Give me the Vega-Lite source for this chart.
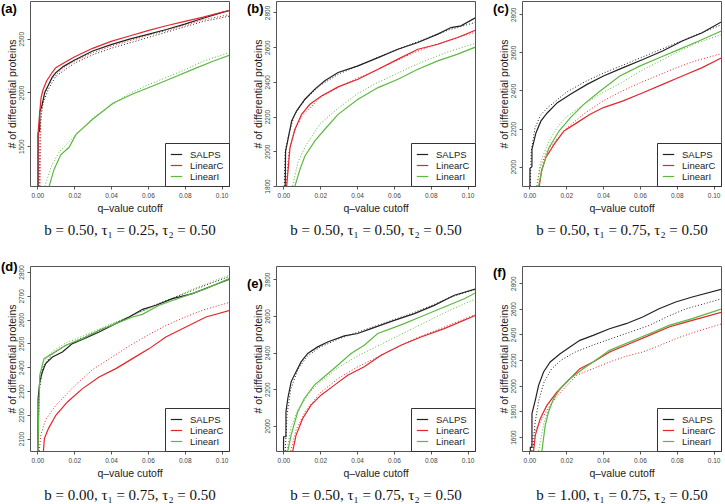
{
"$schema": "https://vega.github.io/schema/vega-lite/v6.json",
"background": "white",
"padding": {"left": 0, "top": 0, "right": 0, "bottom": 0},
"config": {
  "view": {"stroke": "#555555", "strokeWidth": 1},
  "font": "Liberation Sans",
  "axis": {"domain": false, "grid": false, "tickColor": "#555555", "tickSize": 3, "labelFontSize": 6.5, "labelColor": "#444444", "titleFontSize": 10.5, "titleFontWeight": "normal", "titleColor": "#222222", "labelFont": "Liberation Sans", "titleFont": "Liberation Sans"},
  "axisX": {"labelPadding": 3, "titlePadding": 5, "format": ".2f", "values": [0, 0.02, 0.04, 0.06, 0.08, 0.1]},
  "axisY": {"labelAngle": -90, "labelAlign": "center", "labelBaseline": "bottom", "labelPadding": 3, "titlePadding": 1, "format": "d"},
  "legend": {"orient": "bottom-right", "offset": 0, "strokeColor": "#333333", "fillColor": "white", "padding": 5, "symbolType": "stroke", "symbolStrokeWidth": 1.2, "symbolSize": 130, "labelFontSize": 9.5, "labelColor": "#222222", "rowPadding": 0, "labelOffset": 7, "labelFont": "Liberation Sans"},
  "title": {"font": "Liberation Sans", "fontSize": 13, "fontWeight": "bold", "color": "#000000", "orient": "top", "anchor": "start", "frame": "bounds"}
},
"resolve": {"scale": {"color": "independent"}, "legend": {"color": "independent"}},
"spacing": 22,
"vconcat": [
{"hconcat": [
 {
  "width": 199, "height": 185,
  "title": {"text": "(a)", "offset": -15, "dx": -6},
  "resolve": {"axis": {"x": "independent"}},
  "data": {"values": [
   {"m":"SALPS","k":"s","q":0.0004,"n":1127},{"m":"SALPS","k":"s","q":0.00041,"n":1620},{"m":"SALPS","k":"s","q":0.0013,"n":1650},{"m":"SALPS","k":"s","q":0.00131,"n":1820},{"m":"SALPS","k":"s","q":0.0025,"n":1880},{"m":"SALPS","k":"s","q":0.004,"n":2000},{"m":"SALPS","k":"s","q":0.006,"n":2070},{"m":"SALPS","k":"s","q":0.008,"n":2140},{"m":"SALPS","k":"s","q":0.01,"n":2183},{"m":"SALPS","k":"s","q":0.014,"n":2240},{"m":"SALPS","k":"s","q":0.02,"n":2300},{"m":"SALPS","k":"s","q":0.03,"n":2385},{"m":"SALPS","k":"s","q":0.04,"n":2445},{"m":"SALPS","k":"s","q":0.05,"n":2495},{"m":"SALPS","k":"s","q":0.06,"n":2540},{"m":"SALPS","k":"s","q":0.07,"n":2585},{"m":"SALPS","k":"s","q":0.08,"n":2635},{"m":"SALPS","k":"s","q":0.09,"n":2690},{"m":"SALPS","k":"s","q":0.1,"n":2742},{"m":"SALPS","k":"s","q":0.106,"n":2770},
   {"m":"LinearC","k":"s","q":0.0002,"n":1127},{"m":"LinearC","k":"s","q":0.0003,"n":1600},{"m":"LinearC","k":"s","q":0.001,"n":1760},{"m":"LinearC","k":"s","q":0.002,"n":1950},{"m":"LinearC","k":"s","q":0.003,"n":2020},{"m":"LinearC","k":"s","q":0.005,"n":2106},{"m":"LinearC","k":"s","q":0.008,"n":2185},{"m":"LinearC","k":"s","q":0.01,"n":2230},{"m":"LinearC","k":"s","q":0.015,"n":2280},{"m":"LinearC","k":"s","q":0.02,"n":2330},{"m":"LinearC","k":"s","q":0.03,"n":2410},{"m":"LinearC","k":"s","q":0.04,"n":2475},{"m":"LinearC","k":"s","q":0.05,"n":2525},{"m":"LinearC","k":"s","q":0.06,"n":2575},{"m":"LinearC","k":"s","q":0.07,"n":2620},{"m":"LinearC","k":"s","q":0.08,"n":2660},{"m":"LinearC","k":"s","q":0.09,"n":2700},{"m":"LinearC","k":"s","q":0.1,"n":2745},{"m":"LinearC","k":"s","q":0.106,"n":2770},
   {"m":"LinearI","k":"s","q":0.0064,"n":1127},{"m":"LinearI","k":"s","q":0.009,"n":1282},{"m":"LinearI","k":"s","q":0.0127,"n":1420},{"m":"LinearI","k":"s","q":0.0172,"n":1490},{"m":"LinearI","k":"s","q":0.021,"n":1610},{"m":"LinearI","k":"s","q":0.03,"n":1750},{"m":"LinearI","k":"s","q":0.041,"n":1900},{"m":"LinearI","k":"s","q":0.0517,"n":1985},{"m":"LinearI","k":"s","q":0.0626,"n":2060},{"m":"LinearI","k":"s","q":0.0735,"n":2137},{"m":"LinearI","k":"s","q":0.0844,"n":2214},{"m":"LinearI","k":"s","q":0.0953,"n":2290},{"m":"LinearI","k":"s","q":0.106,"n":2356},
   {"m":"SALPS","k":"d","q":0.001,"n":1127},{"m":"SALPS","k":"d","q":0.0015,"n":1700},{"m":"SALPS","k":"d","q":0.003,"n":1900},{"m":"SALPS","k":"d","q":0.006,"n":2030},{"m":"SALPS","k":"d","q":0.01,"n":2150},{"m":"SALPS","k":"d","q":0.02,"n":2270},{"m":"SALPS","k":"d","q":0.03,"n":2350},{"m":"SALPS","k":"d","q":0.04,"n":2410},{"m":"SALPS","k":"d","q":0.05,"n":2460},{"m":"SALPS","k":"d","q":0.06,"n":2510},{"m":"SALPS","k":"d","q":0.07,"n":2560},{"m":"SALPS","k":"d","q":0.08,"n":2610},{"m":"SALPS","k":"d","q":0.09,"n":2660},{"m":"SALPS","k":"d","q":0.106,"n":2715},
   {"m":"LinearC","k":"d","q":0.0015,"n":1127},{"m":"LinearC","k":"d","q":0.002,"n":1800},{"m":"LinearC","k":"d","q":0.004,"n":1990},{"m":"LinearC","k":"d","q":0.008,"n":2130},{"m":"LinearC","k":"d","q":0.015,"n":2240},{"m":"LinearC","k":"d","q":0.02,"n":2290},{"m":"LinearC","k":"d","q":0.03,"n":2370},{"m":"LinearC","k":"d","q":0.04,"n":2430},{"m":"LinearC","k":"d","q":0.05,"n":2480},{"m":"LinearC","k":"d","q":0.06,"n":2530},{"m":"LinearC","k":"d","q":0.07,"n":2575},{"m":"LinearC","k":"d","q":0.08,"n":2625},{"m":"LinearC","k":"d","q":0.09,"n":2675},{"m":"LinearC","k":"d","q":0.106,"n":2730},
   {"m":"LinearI","k":"d","q":0.004,"n":1127},{"m":"LinearI","k":"d","q":0.008,"n":1330},{"m":"LinearI","k":"d","q":0.012,"n":1450},{"m":"LinearI","k":"d","q":0.02,"n":1590},{"m":"LinearI","k":"d","q":0.03,"n":1760},{"m":"LinearI","k":"d","q":0.04,"n":1880},{"m":"LinearI","k":"d","q":0.05,"n":1990},{"m":"LinearI","k":"d","q":0.06,"n":2070},{"m":"LinearI","k":"d","q":0.07,"n":2140},{"m":"LinearI","k":"d","q":0.08,"n":2210},{"m":"LinearI","k":"d","q":0.09,"n":2290},{"m":"LinearI","k":"d","q":0.106,"n":2382}
  ]},
  "encoding": {
   "y": {"field": "n", "type": "quantitative", "scale": {"domain": [1130, 2850], "nice": false, "zero": false}, "axis": {"title": "# of differential proteins", "values": [1500, 2000, 2500]}},
   "color": {"field": "m", "type": "nominal", "scale": {"domain": ["SALPS", "LinearC", "LinearI"], "range": ["#222222", "#e3262b", "#5cb940"]}, "legend": {"title": null}}
  },
  "layer": [
   {"transform": [{"filter": "datum.k == 'd'"}], "mark": {"type": "line", "strokeDash": [1, 2], "strokeWidth": 1, "clip": true},
    "encoding": {"x": {"field": "q", "type": "quantitative", "scale": {"domain": [-0.004, 0.104], "nice": false, "zero": false}, "axis": {"title": "q–value cutoff", "orient": "bottom"}}}},
   {"transform": [{"filter": "datum.k == 's'"}], "mark": {"type": "line", "strokeWidth": 1.2, "clip": true},
    "encoding": {"x": {"field": "q", "type": "quantitative", "axis": {"orient": "bottom", "offset": 30, "title": "b = 0.50, τ₁ = 0.25, τ₂ = 0.50", "labels": false, "ticks": false, "domain": false, "titleFont": "Liberation Serif", "titleFontSize": 15, "titleColor": "#111111", "titlePadding": 6}}}}
  ]
 },
 {
  "width": 199, "height": 185,
  "title": {"text": "(b)", "offset": -15, "dx": -6},
  "resolve": {"axis": {"x": "independent"}},
  "data": {"values": [
   {"m":"SALPS","k":"s","q":0.001,"n":1800},{"m":"SALPS","k":"s","q":0.0012,"n":2000},{"m":"SALPS","k":"s","q":0.0027,"n":2079},{"m":"SALPS","k":"s","q":0.0045,"n":2175},{"m":"SALPS","k":"s","q":0.0072,"n":2233},{"m":"SALPS","k":"s","q":0.0117,"n":2300},{"m":"SALPS","k":"s","q":0.0171,"n":2358},{"m":"SALPS","k":"s","q":0.0225,"n":2406},{"m":"SALPS","k":"s","q":0.0297,"n":2454},{"m":"SALPS","k":"s","q":0.0405,"n":2492},{"m":"SALPS","k":"s","q":0.0514,"n":2540},{"m":"SALPS","k":"s","q":0.0622,"n":2588},{"m":"SALPS","k":"s","q":0.073,"n":2627},{"m":"SALPS","k":"s","q":0.0838,"n":2675},{"m":"SALPS","k":"s","q":0.091,"n":2713},{"m":"SALPS","k":"s","q":0.0964,"n":2723},{"m":"SALPS","k":"s","q":0.106,"n":2780},
   {"m":"LinearC","k":"s","q":0.0018,"n":1800},{"m":"LinearC","k":"s","q":0.0036,"n":2021},{"m":"LinearC","k":"s","q":0.0063,"n":2127},{"m":"LinearC","k":"s","q":0.0099,"n":2213},{"m":"LinearC","k":"s","q":0.0144,"n":2271},{"m":"LinearC","k":"s","q":0.0207,"n":2319},{"m":"LinearC","k":"s","q":0.0297,"n":2371},{"m":"LinearC","k":"s","q":0.0405,"n":2415},{"m":"LinearC","k":"s","q":0.0514,"n":2473},{"m":"LinearC","k":"s","q":0.0622,"n":2531},{"m":"LinearC","k":"s","q":0.073,"n":2588},{"m":"LinearC","k":"s","q":0.0838,"n":2617},{"m":"LinearC","k":"s","q":0.0946,"n":2656},{"m":"LinearC","k":"s","q":0.106,"n":2705},
   {"m":"LinearI","k":"s","q":0.0063,"n":1800},{"m":"LinearI","k":"s","q":0.009,"n":1896},{"m":"LinearI","k":"s","q":0.0117,"n":1973},{"m":"LinearI","k":"s","q":0.0171,"n":2060},{"m":"LinearI","k":"s","q":0.0225,"n":2127},{"m":"LinearI","k":"s","q":0.0297,"n":2213},{"m":"LinearI","k":"s","q":0.0405,"n":2300},{"m":"LinearI","k":"s","q":0.0514,"n":2367},{"m":"LinearI","k":"s","q":0.0622,"n":2415},{"m":"LinearI","k":"s","q":0.073,"n":2473},{"m":"LinearI","k":"s","q":0.0838,"n":2521},{"m":"LinearI","k":"s","q":0.0946,"n":2560},{"m":"LinearI","k":"s","q":0.106,"n":2608},
   {"m":"SALPS","k":"d","q":0.0005,"n":1800},{"m":"SALPS","k":"d","q":0.001,"n":2000},{"m":"SALPS","k":"d","q":0.003,"n":2100},{"m":"SALPS","k":"d","q":0.006,"n":2210},{"m":"SALPS","k":"d","q":0.012,"n":2300},{"m":"SALPS","k":"d","q":0.02,"n":2380},{"m":"SALPS","k":"d","q":0.03,"n":2445},{"m":"SALPS","k":"d","q":0.04,"n":2490},{"m":"SALPS","k":"d","q":0.05,"n":2535},{"m":"SALPS","k":"d","q":0.06,"n":2580},{"m":"SALPS","k":"d","q":0.07,"n":2620},{"m":"SALPS","k":"d","q":0.08,"n":2660},{"m":"SALPS","k":"d","q":0.09,"n":2700},{"m":"SALPS","k":"d","q":0.106,"n":2748},
   {"m":"LinearC","k":"d","q":0.0015,"n":1800},{"m":"LinearC","k":"d","q":0.003,"n":2000},{"m":"LinearC","k":"d","q":0.006,"n":2120},{"m":"LinearC","k":"d","q":0.01,"n":2200},{"m":"LinearC","k":"d","q":0.02,"n":2310},{"m":"LinearC","k":"d","q":0.03,"n":2370},{"m":"LinearC","k":"d","q":0.04,"n":2420},{"m":"LinearC","k":"d","q":0.05,"n":2465},{"m":"LinearC","k":"d","q":0.06,"n":2515},{"m":"LinearC","k":"d","q":0.07,"n":2565},{"m":"LinearC","k":"d","q":0.08,"n":2605},{"m":"LinearC","k":"d","q":0.09,"n":2640},{"m":"LinearC","k":"d","q":0.106,"n":2692},
   {"m":"LinearI","k":"d","q":0.005,"n":1800},{"m":"LinearI","k":"d","q":0.008,"n":1940},{"m":"LinearI","k":"d","q":0.012,"n":2030},{"m":"LinearI","k":"d","q":0.02,"n":2160},{"m":"LinearI","k":"d","q":0.03,"n":2250},{"m":"LinearI","k":"d","q":0.04,"n":2330},{"m":"LinearI","k":"d","q":0.05,"n":2390},{"m":"LinearI","k":"d","q":0.06,"n":2440},{"m":"LinearI","k":"d","q":0.07,"n":2490},{"m":"LinearI","k":"d","q":0.08,"n":2535},{"m":"LinearI","k":"d","q":0.09,"n":2575},{"m":"LinearI","k":"d","q":0.106,"n":2628}
  ]},
  "encoding": {
   "y": {"field": "n", "type": "quantitative", "scale": {"domain": [1800, 2866], "nice": false, "zero": false}, "axis": {"title": "# of differential proteins", "values": [1800, 2000, 2200, 2400, 2600, 2800]}},
   "color": {"field": "m", "type": "nominal", "scale": {"domain": ["SALPS", "LinearC", "LinearI"], "range": ["#222222", "#e3262b", "#5cb940"]}, "legend": {"title": null}}
  },
  "layer": [
   {"transform": [{"filter": "datum.k == 'd'"}], "mark": {"type": "line", "strokeDash": [1, 2], "strokeWidth": 1, "clip": true},
    "encoding": {"x": {"field": "q", "type": "quantitative", "scale": {"domain": [-0.004, 0.104], "nice": false, "zero": false}, "axis": {"title": "q–value cutoff", "orient": "bottom"}}}},
   {"transform": [{"filter": "datum.k == 's'"}], "mark": {"type": "line", "strokeWidth": 1.2, "clip": true},
    "encoding": {"x": {"field": "q", "type": "quantitative", "axis": {"orient": "bottom", "offset": 30, "title": "b = 0.50, τ₁ = 0.50, τ₂ = 0.50", "labels": false, "ticks": false, "domain": false, "titleFont": "Liberation Serif", "titleFontSize": 15, "titleColor": "#111111", "titlePadding": 6}}}}
  ]
 },
 {
  "width": 199, "height": 185,
  "title": {"text": "(c)", "offset": -15, "dx": -6},
  "resolve": {"axis": {"x": "independent"}},
  "data": {"values": [
   {"m":"SALPS","k":"s","q":0.0003,"n":1898},{"m":"SALPS","k":"s","q":0.00031,"n":1990},{"m":"SALPS","k":"s","q":0.0014,"n":2000},{"m":"SALPS","k":"s","q":0.00141,"n":2091},{"m":"SALPS","k":"s","q":0.0036,"n":2178},{"m":"SALPS","k":"s","q":0.0063,"n":2240},{"m":"SALPS","k":"s","q":0.0098,"n":2283},{"m":"SALPS","k":"s","q":0.0152,"n":2336},{"m":"SALPS","k":"s","q":0.0223,"n":2380},{"m":"SALPS","k":"s","q":0.0313,"n":2432},{"m":"SALPS","k":"s","q":0.0402,"n":2476},{"m":"SALPS","k":"s","q":0.0509,"n":2520},{"m":"SALPS","k":"s","q":0.0616,"n":2563},{"m":"SALPS","k":"s","q":0.0723,"n":2607},{"m":"SALPS","k":"s","q":0.083,"n":2660},{"m":"SALPS","k":"s","q":0.0938,"n":2703},{"m":"SALPS","k":"s","q":0.106,"n":2770},
   {"m":"LinearC","k":"s","q":0.0054,"n":1898},{"m":"LinearC","k":"s","q":0.0066,"n":1977},{"m":"LinearC","k":"s","q":0.0089,"n":2047},{"m":"LinearC","k":"s","q":0.0134,"n":2117},{"m":"LinearC","k":"s","q":0.0188,"n":2187},{"m":"LinearC","k":"s","q":0.0259,"n":2231},{"m":"LinearC","k":"s","q":0.033,"n":2275},{"m":"LinearC","k":"s","q":0.0402,"n":2310},{"m":"LinearC","k":"s","q":0.0509,"n":2345},{"m":"LinearC","k":"s","q":0.0616,"n":2388},{"m":"LinearC","k":"s","q":0.0723,"n":2432},{"m":"LinearC","k":"s","q":0.083,"n":2476},{"m":"LinearC","k":"s","q":0.0938,"n":2520},{"m":"LinearC","k":"s","q":0.106,"n":2580},
   {"m":"LinearI","k":"s","q":0.005,"n":1898},{"m":"LinearI","k":"s","q":0.0071,"n":1995},{"m":"LinearI","k":"s","q":0.0107,"n":2100},{"m":"LinearI","k":"s","q":0.0161,"n":2187},{"m":"LinearI","k":"s","q":0.0223,"n":2257},{"m":"LinearI","k":"s","q":0.0295,"n":2327},{"m":"LinearI","k":"s","q":0.0384,"n":2397},{"m":"LinearI","k":"s","q":0.0491,"n":2476},{"m":"LinearI","k":"s","q":0.0598,"n":2528},{"m":"LinearI","k":"s","q":0.0705,"n":2572},{"m":"LinearI","k":"s","q":0.0813,"n":2616},{"m":"LinearI","k":"s","q":0.092,"n":2660},{"m":"LinearI","k":"s","q":0.106,"n":2720},
   {"m":"SALPS","k":"d","q":0.0005,"n":1898},{"m":"SALPS","k":"d","q":0.001,"n":2080},{"m":"SALPS","k":"d","q":0.003,"n":2200},{"m":"SALPS","k":"d","q":0.006,"n":2270},{"m":"SALPS","k":"d","q":0.01,"n":2310},{"m":"SALPS","k":"d","q":0.02,"n":2390},{"m":"SALPS","k":"d","q":0.03,"n":2445},{"m":"SALPS","k":"d","q":0.04,"n":2490},{"m":"SALPS","k":"d","q":0.05,"n":2530},{"m":"SALPS","k":"d","q":0.06,"n":2570},{"m":"SALPS","k":"d","q":0.07,"n":2610},{"m":"SALPS","k":"d","q":0.08,"n":2650},{"m":"SALPS","k":"d","q":0.09,"n":2690},{"m":"SALPS","k":"d","q":0.106,"n":2752},
   {"m":"LinearC","k":"d","q":0.004,"n":1898},{"m":"LinearC","k":"d","q":0.006,"n":2000},{"m":"LinearC","k":"d","q":0.01,"n":2090},{"m":"LinearC","k":"d","q":0.02,"n":2200},{"m":"LinearC","k":"d","q":0.03,"n":2280},{"m":"LinearC","k":"d","q":0.04,"n":2345},{"m":"LinearC","k":"d","q":0.05,"n":2395},{"m":"LinearC","k":"d","q":0.06,"n":2440},{"m":"LinearC","k":"d","q":0.07,"n":2480},{"m":"LinearC","k":"d","q":0.08,"n":2520},{"m":"LinearC","k":"d","q":0.09,"n":2555},{"m":"LinearC","k":"d","q":0.106,"n":2598},
   {"m":"LinearI","k":"d","q":0.004,"n":1898},{"m":"LinearI","k":"d","q":0.006,"n":2020},{"m":"LinearI","k":"d","q":0.01,"n":2120},{"m":"LinearI","k":"d","q":0.015,"n":2205},{"m":"LinearI","k":"d","q":0.02,"n":2260},{"m":"LinearI","k":"d","q":0.03,"n":2330},{"m":"LinearI","k":"d","q":0.04,"n":2390},{"m":"LinearI","k":"d","q":0.05,"n":2440},{"m":"LinearI","k":"d","q":0.06,"n":2500},{"m":"LinearI","k":"d","q":0.07,"n":2550},{"m":"LinearI","k":"d","q":0.08,"n":2600},{"m":"LinearI","k":"d","q":0.09,"n":2645},{"m":"LinearI","k":"d","q":0.106,"n":2700}
  ]},
  "encoding": {
   "y": {"field": "n", "type": "quantitative", "scale": {"domain": [1898, 2870], "nice": false, "zero": false}, "axis": {"title": "# of differential proteins", "values": [2000, 2200, 2400, 2600, 2800]}},
   "color": {"field": "m", "type": "nominal", "scale": {"domain": ["SALPS", "LinearC", "LinearI"], "range": ["#222222", "#e3262b", "#5cb940"]}, "legend": {"title": null}}
  },
  "layer": [
   {"transform": [{"filter": "datum.k == 'd'"}], "mark": {"type": "line", "strokeDash": [1, 2], "strokeWidth": 1, "clip": true},
    "encoding": {"x": {"field": "q", "type": "quantitative", "scale": {"domain": [-0.004, 0.104], "nice": false, "zero": false}, "axis": {"title": "q–value cutoff", "orient": "bottom"}}}},
   {"transform": [{"filter": "datum.k == 's'"}], "mark": {"type": "line", "strokeWidth": 1.2, "clip": true},
    "encoding": {"x": {"field": "q", "type": "quantitative", "axis": {"orient": "bottom", "offset": 30, "title": "b = 0.50, τ₁ = 0.75, τ₂ = 0.50", "labels": false, "ticks": false, "domain": false, "titleFont": "Liberation Serif", "titleFontSize": 15, "titleColor": "#111111", "titlePadding": 6}}}}
  ]
 }
], "spacing": 16, "resolve": {"scale": {"color": "independent"}, "legend": {"color": "independent"}}},
{"hconcat": [
 {
  "width": 199, "height": 185,
  "title": {"text": "(d)", "offset": -9, "dx": -6},
  "resolve": {"axis": {"x": "independent"}},
  "data": {"values": [
   {"m":"SALPS","k":"s","q":0.0003,"n":2048},{"m":"SALPS","k":"s","q":0.0004,"n":2268},{"m":"SALPS","k":"s","q":0.0013,"n":2338},{"m":"SALPS","k":"s","q":0.0027,"n":2380},{"m":"SALPS","k":"s","q":0.0045,"n":2415},{"m":"SALPS","k":"s","q":0.0082,"n":2443},{"m":"SALPS","k":"s","q":0.0136,"n":2464},{"m":"SALPS","k":"s","q":0.019,"n":2499},{"m":"SALPS","k":"s","q":0.0263,"n":2523},{"m":"SALPS","k":"s","q":0.0335,"n":2548},{"m":"SALPS","k":"s","q":0.0408,"n":2576},{"m":"SALPS","k":"s","q":0.0498,"n":2611},{"m":"SALPS","k":"s","q":0.0571,"n":2643},{"m":"SALPS","k":"s","q":0.0643,"n":2660},{"m":"SALPS","k":"s","q":0.0734,"n":2688},{"m":"SALPS","k":"s","q":0.0842,"n":2709},{"m":"SALPS","k":"s","q":0.0933,"n":2737},{"m":"SALPS","k":"s","q":0.106,"n":2775},
   {"m":"LinearC","k":"s","q":0.0033,"n":2048},{"m":"LinearC","k":"s","q":0.0038,"n":2100},{"m":"LinearC","k":"s","q":0.006,"n":2142},{"m":"LinearC","k":"s","q":0.01,"n":2198},{"m":"LinearC","k":"s","q":0.0163,"n":2254},{"m":"LinearC","k":"s","q":0.0245,"n":2310},{"m":"LinearC","k":"s","q":0.0335,"n":2359},{"m":"LinearC","k":"s","q":0.0426,"n":2394},{"m":"LinearC","k":"s","q":0.0516,"n":2436},{"m":"LinearC","k":"s","q":0.0607,"n":2478},{"m":"LinearC","k":"s","q":0.0697,"n":2527},{"m":"LinearC","k":"s","q":0.0806,"n":2569},{"m":"LinearC","k":"s","q":0.0915,"n":2611},{"m":"LinearC","k":"s","q":0.106,"n":2642},
   {"m":"LinearI","k":"s","q":0.0002,"n":2048},{"m":"LinearI","k":"s","q":0.0013,"n":2366},{"m":"LinearI","k":"s","q":0.0036,"n":2436},{"m":"LinearI","k":"s","q":0.0082,"n":2457},{"m":"LinearI","k":"s","q":0.0154,"n":2492},{"m":"LinearI","k":"s","q":0.0245,"n":2520},{"m":"LinearI","k":"s","q":0.0335,"n":2555},{"m":"LinearI","k":"s","q":0.0426,"n":2583},{"m":"LinearI","k":"s","q":0.0516,"n":2611},{"m":"LinearI","k":"s","q":0.057,"n":2622},{"m":"LinearI","k":"s","q":0.0661,"n":2660},{"m":"LinearI","k":"s","q":0.0788,"n":2695},{"m":"LinearI","k":"s","q":0.0915,"n":2730},{"m":"LinearI","k":"s","q":0.106,"n":2778},
   {"m":"SALPS","k":"d","q":0.0002,"n":2048},{"m":"SALPS","k":"d","q":0.001,"n":2300},{"m":"SALPS","k":"d","q":0.003,"n":2400},{"m":"SALPS","k":"d","q":0.008,"n":2455},{"m":"SALPS","k":"d","q":0.015,"n":2490},{"m":"SALPS","k":"d","q":0.025,"n":2525},{"m":"SALPS","k":"d","q":0.035,"n":2560},{"m":"SALPS","k":"d","q":0.045,"n":2595},{"m":"SALPS","k":"d","q":0.055,"n":2630},{"m":"SALPS","k":"d","q":0.065,"n":2665},{"m":"SALPS","k":"d","q":0.075,"n":2695},{"m":"SALPS","k":"d","q":0.085,"n":2725},{"m":"SALPS","k":"d","q":0.095,"n":2755},{"m":"SALPS","k":"d","q":0.106,"n":2786},
   {"m":"LinearC","k":"d","q":0.001,"n":2048},{"m":"LinearC","k":"d","q":0.002,"n":2120},{"m":"LinearC","k":"d","q":0.0045,"n":2180},{"m":"LinearC","k":"d","q":0.01,"n":2240},{"m":"LinearC","k":"d","q":0.02,"n":2320},{"m":"LinearC","k":"d","q":0.03,"n":2390},{"m":"LinearC","k":"d","q":0.04,"n":2440},{"m":"LinearC","k":"d","q":0.05,"n":2490},{"m":"LinearC","k":"d","q":0.06,"n":2535},{"m":"LinearC","k":"d","q":0.07,"n":2576},{"m":"LinearC","k":"d","q":0.08,"n":2610},{"m":"LinearC","k":"d","q":0.09,"n":2640},{"m":"LinearC","k":"d","q":0.106,"n":2676},
   {"m":"LinearI","k":"d","q":0.0002,"n":2048},{"m":"LinearI","k":"d","q":0.001,"n":2320},{"m":"LinearI","k":"d","q":0.003,"n":2420},{"m":"LinearI","k":"d","q":0.008,"n":2465},{"m":"LinearI","k":"d","q":0.015,"n":2500},{"m":"LinearI","k":"d","q":0.025,"n":2532},{"m":"LinearI","k":"d","q":0.035,"n":2565},{"m":"LinearI","k":"d","q":0.045,"n":2598},{"m":"LinearI","k":"d","q":0.055,"n":2628},{"m":"LinearI","k":"d","q":0.065,"n":2660},{"m":"LinearI","k":"d","q":0.075,"n":2695},{"m":"LinearI","k":"d","q":0.085,"n":2730},{"m":"LinearI","k":"d","q":0.095,"n":2760},{"m":"LinearI","k":"d","q":0.106,"n":2791}
  ]},
  "encoding": {
   "y": {"field": "n", "type": "quantitative", "scale": {"domain": [2048, 2825], "nice": false, "zero": false}, "axis": {"title": "# of differential proteins", "values": [2100, 2200, 2300, 2400, 2500, 2600, 2700, 2800]}},
   "color": {"field": "m", "type": "nominal", "scale": {"domain": ["SALPS", "LinearC", "LinearI"], "range": ["#222222", "#e3262b", "#5cb940"]}, "legend": {"title": null}}
  },
  "layer": [
   {"transform": [{"filter": "datum.k == 'd'"}], "mark": {"type": "line", "strokeDash": [1, 2], "strokeWidth": 1, "clip": true},
    "encoding": {"x": {"field": "q", "type": "quantitative", "scale": {"domain": [-0.004, 0.104], "nice": false, "zero": false}, "axis": {"title": "q–value cutoff", "orient": "bottom"}}}},
   {"transform": [{"filter": "datum.k == 's'"}], "mark": {"type": "line", "strokeWidth": 1.2, "clip": true},
    "encoding": {"x": {"field": "q", "type": "quantitative", "axis": {"orient": "bottom", "offset": 30, "title": "b = 0.00, τ₁ = 0.75, τ₂ = 0.50", "labels": false, "ticks": false, "domain": false, "titleFont": "Liberation Serif", "titleFontSize": 15, "titleColor": "#111111", "titlePadding": 6}}}}
  ]
 },
 {
  "width": 199, "height": 185,
  "title": {"text": "(e)", "offset": -25, "dx": -6},
  "resolve": {"axis": {"x": "independent"}},
  "data": {"values": [
   {"m":"SALPS","k":"s","q":0.0001,"n":1862},{"m":"SALPS","k":"s","q":0.00011,"n":1940},{"m":"SALPS","k":"s","q":0.0014,"n":1940},{"m":"SALPS","k":"s","q":0.00141,"n":2076},{"m":"SALPS","k":"s","q":0.0024,"n":2149},{"m":"SALPS","k":"s","q":0.0042,"n":2240},{"m":"SALPS","k":"s","q":0.0069,"n":2295},{"m":"SALPS","k":"s","q":0.0096,"n":2349},{"m":"SALPS","k":"s","q":0.0132,"n":2395},{"m":"SALPS","k":"s","q":0.0186,"n":2431},{"m":"SALPS","k":"s","q":0.024,"n":2458},{"m":"SALPS","k":"s","q":0.0331,"n":2491},{"m":"SALPS","k":"s","q":0.0403,"n":2504},{"m":"SALPS","k":"s","q":0.0476,"n":2531},{"m":"SALPS","k":"s","q":0.0602,"n":2576},{"m":"SALPS","k":"s","q":0.0711,"n":2613},{"m":"SALPS","k":"s","q":0.0819,"n":2658},{"m":"SALPS","k":"s","q":0.0928,"n":2713},{"m":"SALPS","k":"s","q":0.106,"n":2753},
   {"m":"LinearC","k":"s","q":0.0051,"n":1862},{"m":"LinearC","k":"s","q":0.0069,"n":1949},{"m":"LinearC","k":"s","q":0.0105,"n":2040},{"m":"LinearC","k":"s","q":0.015,"n":2113},{"m":"LinearC","k":"s","q":0.0204,"n":2167},{"m":"LinearC","k":"s","q":0.0277,"n":2222},{"m":"LinearC","k":"s","q":0.0349,"n":2276},{"m":"LinearC","k":"s","q":0.0439,"n":2322},{"m":"LinearC","k":"s","q":0.053,"n":2385},{"m":"LinearC","k":"s","q":0.0638,"n":2440},{"m":"LinearC","k":"s","q":0.0747,"n":2485},{"m":"LinearC","k":"s","q":0.0873,"n":2531},{"m":"LinearC","k":"s","q":0.106,"n":2610},
   {"m":"LinearI","k":"s","q":0.0024,"n":1862},{"m":"LinearI","k":"s","q":0.0042,"n":1949},{"m":"LinearI","k":"s","q":0.0078,"n":2076},{"m":"LinearI","k":"s","q":0.0114,"n":2149},{"m":"LinearI","k":"s","q":0.0168,"n":2222},{"m":"LinearI","k":"s","q":0.0231,"n":2276},{"m":"LinearI","k":"s","q":0.0295,"n":2331},{"m":"LinearI","k":"s","q":0.0367,"n":2395},{"m":"LinearI","k":"s","q":0.0439,"n":2440},{"m":"LinearI","k":"s","q":0.0512,"n":2504},{"m":"LinearI","k":"s","q":0.0584,"n":2531},{"m":"LinearI","k":"s","q":0.0656,"n":2558},{"m":"LinearI","k":"s","q":0.0765,"n":2604},{"m":"LinearI","k":"s","q":0.0873,"n":2649},{"m":"LinearI","k":"s","q":0.0982,"n":2694},{"m":"LinearI","k":"s","q":0.106,"n":2735},
   {"m":"SALPS","k":"d","q":0.001,"n":1862},{"m":"SALPS","k":"d","q":0.002,"n":2060},{"m":"SALPS","k":"d","q":0.004,"n":2200},{"m":"SALPS","k":"d","q":0.008,"n":2310},{"m":"SALPS","k":"d","q":0.013,"n":2380},{"m":"SALPS","k":"d","q":0.02,"n":2430},{"m":"SALPS","k":"d","q":0.03,"n":2475},{"m":"SALPS","k":"d","q":0.04,"n":2510},{"m":"SALPS","k":"d","q":0.05,"n":2545},{"m":"SALPS","k":"d","q":0.06,"n":2580},{"m":"SALPS","k":"d","q":0.07,"n":2615},{"m":"SALPS","k":"d","q":0.08,"n":2655},{"m":"SALPS","k":"d","q":0.09,"n":2700},{"m":"SALPS","k":"d","q":0.106,"n":2750},
   {"m":"LinearC","k":"d","q":0.004,"n":1862},{"m":"LinearC","k":"d","q":0.007,"n":1980},{"m":"LinearC","k":"d","q":0.012,"n":2080},{"m":"LinearC","k":"d","q":0.02,"n":2180},{"m":"LinearC","k":"d","q":0.03,"n":2260},{"m":"LinearC","k":"d","q":0.04,"n":2320},{"m":"LinearC","k":"d","q":0.05,"n":2370},{"m":"LinearC","k":"d","q":0.06,"n":2420},{"m":"LinearC","k":"d","q":0.07,"n":2470},{"m":"LinearC","k":"d","q":0.08,"n":2510},{"m":"LinearC","k":"d","q":0.09,"n":2550},{"m":"LinearC","k":"d","q":0.106,"n":2615},
   {"m":"LinearI","k":"d","q":0.002,"n":1862},{"m":"LinearI","k":"d","q":0.004,"n":1990},{"m":"LinearI","k":"d","q":0.008,"n":2090},{"m":"LinearI","k":"d","q":0.015,"n":2190},{"m":"LinearI","k":"d","q":0.02,"n":2240},{"m":"LinearI","k":"d","q":0.03,"n":2320},{"m":"LinearI","k":"d","q":0.04,"n":2380},{"m":"LinearI","k":"d","q":0.05,"n":2430},{"m":"LinearI","k":"d","q":0.06,"n":2480},{"m":"LinearI","k":"d","q":0.07,"n":2530},{"m":"LinearI","k":"d","q":0.08,"n":2580},{"m":"LinearI","k":"d","q":0.09,"n":2630},{"m":"LinearI","k":"d","q":0.106,"n":2700}
  ]},
  "encoding": {
   "y": {"field": "n", "type": "quantitative", "scale": {"domain": [1862, 2873], "nice": false, "zero": false}, "axis": {"title": "# of differential proteins", "values": [2000, 2200, 2400, 2600, 2800]}},
   "color": {"field": "m", "type": "nominal", "scale": {"domain": ["SALPS", "LinearC", "LinearI"], "range": ["#222222", "#e3262b", "#5cb940"]}, "legend": {"title": null}}
  },
  "layer": [
   {"transform": [{"filter": "datum.k == 'd'"}], "mark": {"type": "line", "strokeDash": [1, 2], "strokeWidth": 1, "clip": true},
    "encoding": {"x": {"field": "q", "type": "quantitative", "scale": {"domain": [-0.004, 0.104], "nice": false, "zero": false}, "axis": {"title": "q–value cutoff", "orient": "bottom"}}}},
   {"transform": [{"filter": "datum.k == 's'"}], "mark": {"type": "line", "strokeWidth": 1.2, "clip": true},
    "encoding": {"x": {"field": "q", "type": "quantitative", "axis": {"orient": "bottom", "offset": 30, "title": "b = 0.50, τ₁ = 0.75, τ₂ = 0.50", "labels": false, "ticks": false, "domain": false, "titleFont": "Liberation Serif", "titleFontSize": 15, "titleColor": "#111111", "titlePadding": 6}}}}
  ]
 },
 {
  "width": 199, "height": 185,
  "title": {"text": "(f)", "offset": -14, "dx": -6},
  "resolve": {"axis": {"x": "independent"}},
  "data": {"values": [
   {"m":"SALPS","k":"s","q":0.0005,"n":1491},{"m":"SALPS","k":"s","q":0.00051,"n":1520},{"m":"SALPS","k":"s","q":0.0014,"n":1520},{"m":"SALPS","k":"s","q":0.00141,"n":1782},{"m":"SALPS","k":"s","q":0.0032,"n":1886},{"m":"SALPS","k":"s","q":0.005,"n":2003},{"m":"SALPS","k":"s","q":0.0077,"n":2107},{"m":"SALPS","k":"s","q":0.0113,"n":2185},{"m":"SALPS","k":"s","q":0.0167,"n":2250},{"m":"SALPS","k":"s","q":0.022,"n":2302},{"m":"SALPS","k":"s","q":0.0274,"n":2354},{"m":"SALPS","k":"s","q":0.0346,"n":2393},{"m":"SALPS","k":"s","q":0.0435,"n":2445},{"m":"SALPS","k":"s","q":0.0525,"n":2484},{"m":"SALPS","k":"s","q":0.0615,"n":2536},{"m":"SALPS","k":"s","q":0.0704,"n":2601},{"m":"SALPS","k":"s","q":0.0794,"n":2653},{"m":"SALPS","k":"s","q":0.0884,"n":2692},{"m":"SALPS","k":"s","q":0.106,"n":2760},
   {"m":"LinearC","k":"s","q":0.0023,"n":1491},{"m":"LinearC","k":"s","q":0.0032,"n":1613},{"m":"LinearC","k":"s","q":0.0059,"n":1743},{"m":"LinearC","k":"s","q":0.0095,"n":1847},{"m":"LinearC","k":"s","q":0.0149,"n":1951},{"m":"LinearC","k":"s","q":0.0203,"n":2029},{"m":"LinearC","k":"s","q":0.0274,"n":2133},{"m":"LinearC","k":"s","q":0.0346,"n":2185},{"m":"LinearC","k":"s","q":0.0435,"n":2263},{"m":"LinearC","k":"s","q":0.0543,"n":2328},{"m":"LinearC","k":"s","q":0.0651,"n":2393},{"m":"LinearC","k":"s","q":0.0758,"n":2458},{"m":"LinearC","k":"s","q":0.0884,"n":2510},{"m":"LinearC","k":"s","q":0.106,"n":2580},
   {"m":"LinearI","k":"s","q":0.0068,"n":1491},{"m":"LinearI","k":"s","q":0.0086,"n":1691},{"m":"LinearI","k":"s","q":0.0104,"n":1795},{"m":"LinearI","k":"s","q":0.0131,"n":1899},{"m":"LinearI","k":"s","q":0.0167,"n":1977},{"m":"LinearI","k":"s","q":0.022,"n":2055},{"m":"LinearI","k":"s","q":0.0292,"n":2133},{"m":"LinearI","k":"s","q":0.0346,"n":2185},{"m":"LinearI","k":"s","q":0.0435,"n":2276},{"m":"LinearI","k":"s","q":0.0543,"n":2341},{"m":"LinearI","k":"s","q":0.0651,"n":2406},{"m":"LinearI","k":"s","q":0.0758,"n":2471},{"m":"LinearI","k":"s","q":0.0884,"n":2523},{"m":"LinearI","k":"s","q":0.106,"n":2608},
   {"m":"SALPS","k":"d","q":0.002,"n":1491},{"m":"SALPS","k":"d","q":0.003,"n":1700},{"m":"SALPS","k":"d","q":0.005,"n":1880},{"m":"SALPS","k":"d","q":0.008,"n":2029},{"m":"SALPS","k":"d","q":0.012,"n":2130},{"m":"SALPS","k":"d","q":0.017,"n":2198},{"m":"SALPS","k":"d","q":0.025,"n":2263},{"m":"SALPS","k":"d","q":0.035,"n":2320},{"m":"SALPS","k":"d","q":0.045,"n":2370},{"m":"SALPS","k":"d","q":0.055,"n":2420},{"m":"SALPS","k":"d","q":0.065,"n":2470},{"m":"SALPS","k":"d","q":0.075,"n":2540},{"m":"SALPS","k":"d","q":0.085,"n":2600},{"m":"SALPS","k":"d","q":0.095,"n":2640},{"m":"SALPS","k":"d","q":0.106,"n":2685},
   {"m":"LinearC","k":"d","q":0.001,"n":1491},{"m":"LinearC","k":"d","q":0.002,"n":1620},{"m":"LinearC","k":"d","q":0.0059,"n":1717},{"m":"LinearC","k":"d","q":0.01,"n":1820},{"m":"LinearC","k":"d","q":0.015,"n":1920},{"m":"LinearC","k":"d","q":0.0256,"n":2081},{"m":"LinearC","k":"d","q":0.0346,"n":2133},{"m":"LinearC","k":"d","q":0.0435,"n":2185},{"m":"LinearC","k":"d","q":0.0525,"n":2230},{"m":"LinearC","k":"d","q":0.0615,"n":2263},{"m":"LinearC","k":"d","q":0.07,"n":2310},{"m":"LinearC","k":"d","q":0.0794,"n":2367},{"m":"LinearC","k":"d","q":0.09,"n":2420},{"m":"LinearC","k":"d","q":0.106,"n":2490},
   {"m":"LinearI","k":"d","q":0.005,"n":1491},{"m":"LinearI","k":"d","q":0.0077,"n":1700},{"m":"LinearI","k":"d","q":0.01,"n":1800},{"m":"LinearI","k":"d","q":0.014,"n":1920},{"m":"LinearI","k":"d","q":0.02,"n":2030},{"m":"LinearI","k":"d","q":0.03,"n":2145},{"m":"LinearI","k":"d","q":0.04,"n":2230},{"m":"LinearI","k":"d","q":0.05,"n":2310},{"m":"LinearI","k":"d","q":0.06,"n":2375},{"m":"LinearI","k":"d","q":0.07,"n":2430},{"m":"LinearI","k":"d","q":0.08,"n":2480},{"m":"LinearI","k":"d","q":0.09,"n":2530},{"m":"LinearI","k":"d","q":0.106,"n":2607}
  ]},
  "encoding": {
   "y": {"field": "n", "type": "quantitative", "scale": {"domain": [1491, 2934], "nice": false, "zero": false}, "axis": {"title": "# of differential proteins", "values": [1600, 1800, 2000, 2200, 2400, 2600, 2800]}},
   "color": {"field": "m", "type": "nominal", "scale": {"domain": ["SALPS", "LinearC", "LinearI"], "range": ["#222222", "#e3262b", "#5cb940"]}, "legend": {"title": null}}
  },
  "layer": [
   {"transform": [{"filter": "datum.k == 'd'"}], "mark": {"type": "line", "strokeDash": [1, 2], "strokeWidth": 1, "clip": true},
    "encoding": {"x": {"field": "q", "type": "quantitative", "scale": {"domain": [-0.004, 0.104], "nice": false, "zero": false}, "axis": {"title": "q–value cutoff", "orient": "bottom"}}}},
   {"transform": [{"filter": "datum.k == 's'"}], "mark": {"type": "line", "strokeWidth": 1.2, "clip": true},
    "encoding": {"x": {"field": "q", "type": "quantitative", "axis": {"orient": "bottom", "offset": 30, "title": "b = 1.00, τ₁ = 0.75, τ₂ = 0.50", "labels": false, "ticks": false, "domain": false, "titleFont": "Liberation Serif", "titleFontSize": 15, "titleColor": "#111111", "titlePadding": 6}}}}
  ]
 }
], "spacing": 16, "resolve": {"scale": {"color": "independent"}, "legend": {"color": "independent"}}}
]
}
